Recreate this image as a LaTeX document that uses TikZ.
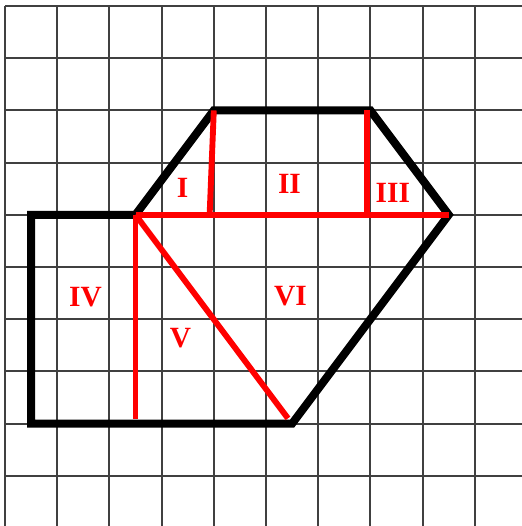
\documentclass[tikz,border=0pt]{standalone}
\usepackage{fontspec}
\setmainfont{Liberation Serif}
\begin{document}
\begin{tikzpicture}[x=1cm,y=-1cm,
  gridline/.style={draw=black!75,line width=1pt},
  outline/.style={draw=black,line width=4.4pt},
  redline/.style={draw=red,line width=3.2pt},
  lab/.style={text=red,font=\fontsize{16}{16}\selectfont\bfseries,inner sep=0pt}]
\useasboundingbox (-0.096,-0.115) rectangle (9.904,9.962);
\fill[white] (-0.096,-0.115) rectangle (9.904,9.962);
% grid
\foreach \k in {0,...,9} {
  \draw[gridline] (\k,0) -- (\k,9.962);
  \draw[gridline] (0,\k) -- (9.904,\k);
}
% vertices
\coordinate (A) at (0.5,4);
\coordinate (B) at (2.5,4);
\coordinate (C) at (4,2);
\coordinate (D) at (7,2);
\coordinate (E) at (8.5,4);
\coordinate (F) at (5.5,8);
\coordinate (G) at (0.5,8);
\coordinate (H) at (2.5,8);
\coordinate (Ib) at (3.92,4);
\coordinate (Jt) at (6.94,2);
\coordinate (Jb) at (6.94,4);
\coordinate (Fe) at (5.42,7.9);
\coordinate (He) at (2.5,7.92);
% outline
\draw[outline] (A) -- (B) -- (C) -- (D) -- (E) -- (F) -- (G) -- cycle;
% red cuts
\draw[redline] (B) -- (E);
\draw[redline] (C) -- (Ib);
\draw[redline] (Jt) -- (Jb);
\draw[redline] (B) -- (He);
\draw[redline] (B) -- (Fe);
% labels
\node[lab] (l1) at (3.40,3.49) {I};
\node[lab] (l2) at (5.45,3.40) {II};
\node[lab] (l3) at (7.43,3.58) {III};
\node[lab] (l4) at (1.54,5.57) {IV};
\node[lab] (l5) at (3.36,6.36) {V};
\node[lab] (l6) at (5.47,5.56) {VI};
\end{tikzpicture}
\end{document}
